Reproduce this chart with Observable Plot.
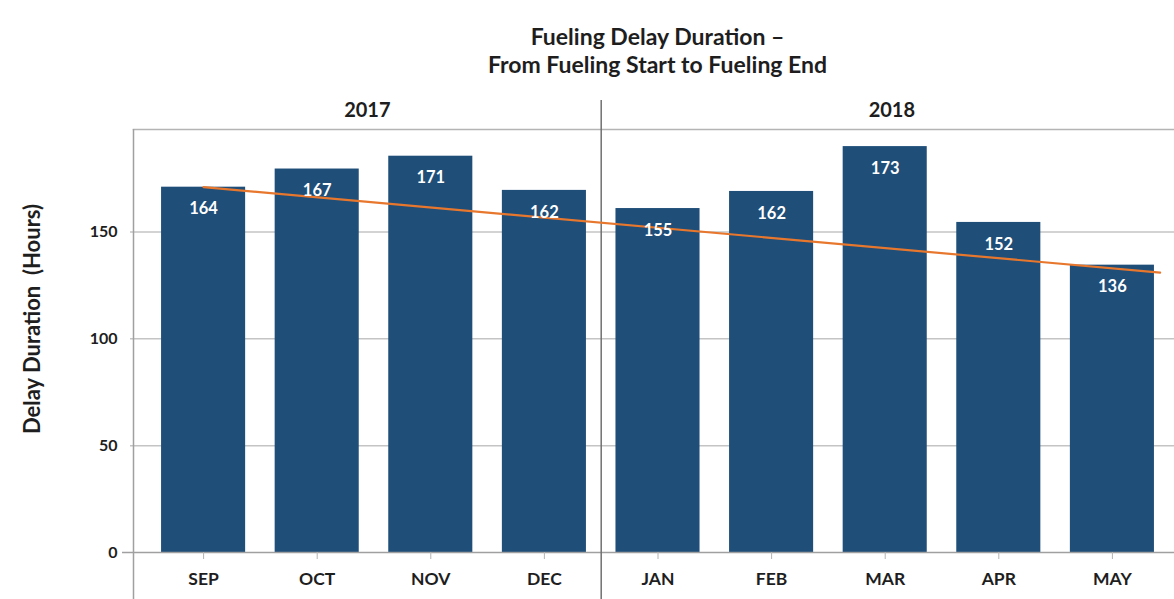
<!DOCTYPE html>
<html>
<head>
<meta charset="utf-8">
<script src="https://cdn.jsdelivr.net/npm/d3@7"></script>
<script src="https://cdn.jsdelivr.net/npm/@observablehq/plot@0.6"></script>
<style>
  html, body { margin: 0; padding: 0; background: #fff; overflow: hidden; }
  #wrap { position: relative; width: 1174px; height: 599px; overflow: hidden; font-family: Lato, "Open Sans", sans-serif; }
  #title { position: absolute; left: 133px; width: 1049px; top: 22px; text-align: center; font-weight: 700; font-size: 23px; line-height: 28px; color: #1e1e1e; }
  #chart { position: absolute; left: 0; top: 90px; width: 1182px; }
  #chart svg { max-width: none !important; }
</style>
</head>
<body>
<div id="wrap">
  <div id="title">Fueling Delay Duration –<br>From Fueling Start to Fueling End</div>
  <div id="chart"></div>
</div>
<script>
// ---- data ----
const months = ["SEP", "OCT", "NOV", "DEC", "JAN", "FEB", "MAR", "APR", "MAY"];
const barValues = [171, 179.5, 185.5, 169.5, 161, 169, 190, 154.5, 134.5];   // bar heights as drawn
const labelValues = [164, 167, 171, 162, 155, 162, 173, 152, 136];          // printed labels
const years = ["2017", "2018"];
const monthsPerYear = [4, 5];
const trendX = [0, 8.42];      // month index of trend line ends
const trendY = [171, 131];     // trend line values
const yTicks = [0, 50, 100, 150];

// ---- build ----
const rows = months.map((m, i) => ({i, month: m, value: barValues[i], label: labelValues[i]}));
const xMin = -0.617, xMax = 8.617;
const half = 0.37;
let idx = 0;
const yearRows = years.map((y, k) => {
  const s = idx - 0.5;
  const e = idx + monthsPerYear[k] - 0.5;
  idx += monthsPerYear[k];
  return {year: y, x0: k === 0 ? xMin : s, x1: k === years.length - 1 ? xMax : e};
});
const separators = yearRows.slice(1).map(d => d.x0);
const trend = trendX.map((x, k) => ({x, y: trendY[k]}));

const textColor = "#1e1e1e";
const font = "Lato, 'Open Sans', sans-serif";

const plot = Plot.plot({
  width: 1182,
  height: 509,
  marginLeft: 133,
  marginRight: 0,
  marginTop: 39,
  marginBottom: 47,
  style: {fontFamily: font, color: textColor, background: "#fff", overflow: "visible", maxWidth: "none"},
  x: {type: "linear", domain: [xMin, xMax], axis: null},
  y: {domain: [0, 198], axis: null},
  marks: [
    Plot.frame({anchor: "top", stroke: "#b4b4b4", strokeWidth: 1.5}),
    Plot.ruleY(yTicks.filter(d => d > 0), {stroke: "#c4c4c4", strokeWidth: 1.5, insetLeft: -3}),
    Plot.rectY(rows, {x1: d => d.i - half, x2: d => d.i + half, y: "value", fill: "#1f4e79"}),
    Plot.ruleY([0], {stroke: "#a0a0a0", strokeWidth: 1.5, insetLeft: -11}),
    Plot.ruleX([xMin], {stroke: "#a0a0a0", strokeWidth: 1.5, insetBottom: -48}),
    Plot.ruleX(separators, {stroke: "#707070", strokeWidth: 1.5, insetTop: -29, insetBottom: -48}),
    Plot.line(trend, {x: "x", y: "y", stroke: "#e8772e", strokeWidth: 2.2}),
    Plot.text(rows, {x: "i", y: "value", text: d => String(d.label), dy: 22, fill: "#fff", fontWeight: 700, fontSize: 16.5}),
    Plot.text(yearRows, {x: d => (d.x0 + d.x1) / 2, text: "year", frameAnchor: "top", lineAnchor: "middle", dy: -19, fontWeight: 700, fontSize: 20, fill: textColor}),
    Plot.axisX({ticks: rows.map(d => d.i), tickFormat: i => months[i], tickSize: 7, tickPadding: 13, stroke: "#b4b4b4", fontWeight: 700, fontSize: 17.5, fill: textColor, label: null}),
    Plot.axisY({ticks: yTicks, tickSize: 0, tickPadding: 16, fontWeight: 700, fontSize: 16, fill: textColor, label: null}),
    Plot.text(["Delay Duration  (Hours)"], {frameAnchor: "left", textAnchor: "middle", dx: -101, dy: -22, rotate: -90, fontWeight: 700, fontSize: 22, fill: textColor})
  ]
});
document.getElementById("chart").appendChild(plot);
</script>
</body>
</html>
